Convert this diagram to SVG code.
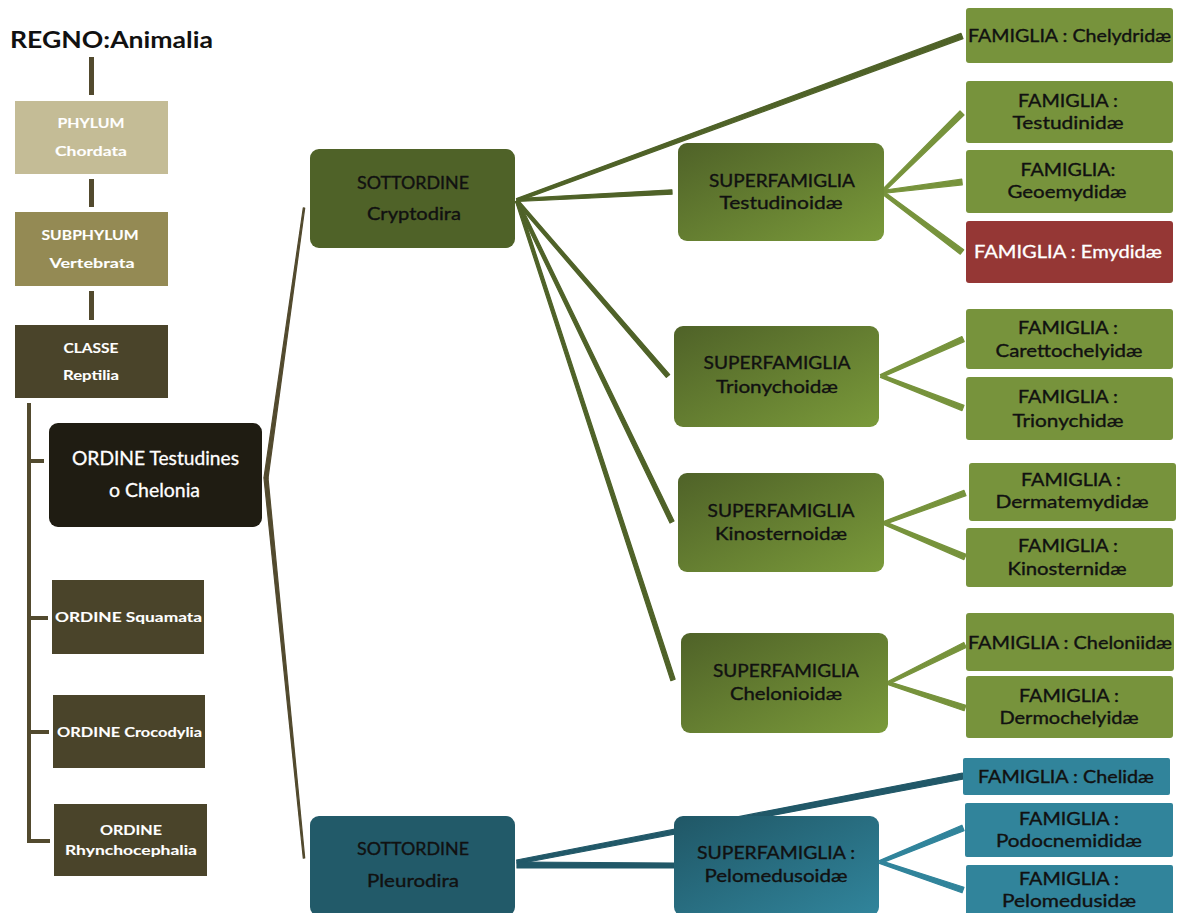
<svg xmlns="http://www.w3.org/2000/svg" width="1179" height="913" viewBox="0 0 1179 913">
<defs>
<linearGradient id="gGreen" x1="0" y1="0" x2="1" y2="1"><stop offset="0" stop-color="#4f6228"/><stop offset="1" stop-color="#7a9a3a"/></linearGradient>
<linearGradient id="gTeal" x1="0" y1="0" x2="1" y2="1"><stop offset="0" stop-color="#205766"/><stop offset="1" stop-color="#31859c"/></linearGradient>
<style>
text{font-family:Lato,"Liberation Sans",sans-serif;text-anchor:middle}
.w{fill:#ffffff;stroke:#ffffff;stroke-width:0.3}
.k{fill:#111111;stroke:#111111;stroke-width:0.35}
.lc{font-size:14px;font-weight:bold;stroke-width:0.1}
.fs{font-size:17px}
#connectors polygon{stroke-width:1.2;stroke-linejoin:round}
.brown{fill:#524a2e;stroke:#524a2e}
.cg{fill:#4f6228;stroke:#4f6228}
.cl{fill:#77933c;stroke:#77933c}
.ct{fill:#215868;stroke:#215868}
.cb{fill:#31849b;stroke:#31849b}
.bar{fill:#524a2e}
.fam{fill:#77933c}
.famt{fill:#31849b}
</style>
</defs>
<rect width="1179" height="913" fill="#ffffff"/>

<g id="connectors">
<rect class="bar" x="89" y="57" width="5" height="38"/>
<rect class="bar" x="89" y="179" width="5" height="28"/>
<rect class="bar" x="89" y="291" width="5" height="29"/>
<rect class="bar" x="27" y="403" width="4" height="440"/>
<rect class="bar" x="27" y="459" width="17" height="4"/>
<rect class="bar" x="27" y="616" width="21" height="4"/>
<rect class="bar" x="27" y="730" width="22" height="4"/>
<rect class="bar" x="27" y="839" width="23" height="4"/>
<polygon class="brown" points="268,478.3 304.7,208.1 303.3,207.9 264,477.7"/>
<polygon class="brown" points="264,478.2 303.3,858.1 304.7,857.9 268,477.8"/>
<polygon class="cg" points="517.5,201.4 963,38.6 961,33.4 516.5,198.6"/>
<polygon class="cg" points="517.1,201.5 672.1,194.2 671.9,189.8 516.9,198.5"/>
<polygon class="cg" points="515.9,202 666.3,377.4 669.7,374.6 518.1,200"/>
<polygon class="cg" points="515.6,201.7 670,523 674,521 518.4,200.3"/>
<polygon class="cg" points="515.6,201.5 670.9,680.7 675.1,679.3 518.4,200.5"/>
<polygon class="cl" points="883,193.1 964,115 960,111 881,190.9"/>
<polygon class="cl" points="882.2,193.5 962.3,184.8 961.7,179.2 881.8,190.5"/>
<polygon class="cl" points="881.1,193.2 960.3,254.2 963.7,249.8 882.9,190.8"/>
<polygon class="cl" points="881.6,377.4 964.2,341.6 961.9,336.5 880.4,374.6"/>
<polygon class="cl" points="880.5,377.4 962,410.6 964,405.4 881.6,374.6"/>
<polygon class="cl" points="884.5,524.4 966,495.6 964,490.4 883.5,521.6"/>
<polygon class="cl" points="883.4,524.4 963.9,559.6 966.1,554.4 884.6,521.6"/>
<polygon class="cl" points="888.7,684.3 966.2,647.5 963.8,642.5 887.3,681.7"/>
<polygon class="cl" points="887.5,684.4 964.1,710.7 965.9,705.3 888.5,681.6"/>
<polygon class="ct" points="517.4,864 963.6,779 962.4,773 516.6,860"/>
<polygon class="ct" points="517,862 674,863 674,868 517,868"/>
<polygon class="cb" points="880.6,863.4 964.1,830.8 961.9,825.2 879.4,860.6"/>
<polygon class="cb" points="879.5,863.4 962,892.8 964,887.2 880.5,860.6"/>
</g>

<g id="regno"><text x="10" y="48" style="text-anchor:start;font-size:22px;font-weight:bold;fill:#111" textLength="203" lengthAdjust="spacingAndGlyphs">REGNO:Animalia</text></g>

<g id="phylum"><rect x="15" y="101" width="153" height="73" fill="#c4bc96"/>
<text class="w lc" x="91" y="128" textLength="67" lengthAdjust="spacingAndGlyphs">PHYLUM</text>
<text class="w lc" x="91" y="156" textLength="72" lengthAdjust="spacingAndGlyphs">Chordata</text></g>

<g id="subphylum"><rect x="15" y="212" width="153" height="74" fill="#948a54"/>
<text class="w lc" x="90" y="240" textLength="97" lengthAdjust="spacingAndGlyphs">SUBPHYLUM</text>
<text class="w lc" x="92" y="268" textLength="85" lengthAdjust="spacingAndGlyphs">Vertebrata</text></g>

<g id="classe"><rect x="15" y="325" width="153" height="73" fill="#4a442a"/>
<text class="w lc" x="91" y="353" textLength="55" lengthAdjust="spacingAndGlyphs">CLASSE</text>
<text class="w lc" x="91" y="380" textLength="56" lengthAdjust="spacingAndGlyphs">Reptilia</text></g>

<g id="testudines"><rect x="49" y="423" width="213" height="104" rx="9" fill="#1f1c12"/>
<text class="w" style="font-size:19px" x="155.5" y="465" textLength="167" lengthAdjust="spacingAndGlyphs">ORDINE Testudines</text>
<text class="w" style="font-size:19px" x="154.5" y="497" textLength="91" lengthAdjust="spacingAndGlyphs">o Chelonia</text></g>

<g id="squamata"><rect x="52" y="580" width="152" height="74" fill="#4a442a"/>
<text class="w lc" x="128.5" y="622" textLength="147" lengthAdjust="spacingAndGlyphs">ORDINE  Squamata</text></g>

<g id="crocodylia"><rect x="53" y="695" width="152" height="73" fill="#4a442a"/>
<text class="w lc" x="129.5" y="737" textLength="145" lengthAdjust="spacingAndGlyphs">ORDINE Crocodylia</text></g>

<g id="rhyncho"><rect x="54" y="804" width="153" height="72" fill="#4a442a"/>
<text class="w lc" x="131" y="835" textLength="62" lengthAdjust="spacingAndGlyphs">ORDINE</text>
<text class="w lc" x="131" y="855" textLength="132" lengthAdjust="spacingAndGlyphs">Rhynchocephalia</text></g>

<g id="cryptodira"><rect x="310" y="149" width="205" height="99" rx="9" fill="#4f6228"/>
<text class="k fs" x="413" y="189" textLength="112" lengthAdjust="spacingAndGlyphs">SOTTORDINE</text>
<text class="k fs" x="414" y="220" textLength="94" lengthAdjust="spacingAndGlyphs">Cryptodira</text></g>

<g id="pleurodira"><rect x="310" y="816" width="205" height="100" rx="9" fill="#225a69"/>
<text class="k fs" x="413" y="855" textLength="112" lengthAdjust="spacingAndGlyphs">SOTTORDINE</text>
<text class="k fs" x="413" y="887" textLength="92" lengthAdjust="spacingAndGlyphs">Pleurodira</text></g>

<g id="testudinoidae"><rect x="678" y="143" width="206" height="98" rx="9" fill="url(#gGreen)"/>
<text class="k fs" x="782" y="187" textLength="146" lengthAdjust="spacingAndGlyphs">SUPERFAMIGLIA</text>
<text class="k fs" x="781" y="209" textLength="123" lengthAdjust="spacingAndGlyphs">Testudinoidæ</text></g>

<g id="trionychoidae"><rect x="674" y="326" width="205" height="101" rx="9" fill="url(#gGreen)"/>
<text class="k fs" x="777" y="369" textLength="147" lengthAdjust="spacingAndGlyphs">SUPERFAMIGLIA</text>
<text class="k fs" x="777" y="393" textLength="122" lengthAdjust="spacingAndGlyphs">Trionychoidæ</text></g>

<g id="kinosternoidae"><rect x="678" y="473" width="206" height="99" rx="9" fill="url(#gGreen)"/>
<text class="k fs" x="781" y="517" textLength="147" lengthAdjust="spacingAndGlyphs">SUPERFAMIGLIA</text>
<text class="k fs" x="781" y="540" textLength="132" lengthAdjust="spacingAndGlyphs">Kinosternoidæ</text></g>

<g id="chelonioidae"><rect x="681" y="633" width="207" height="100" rx="9" fill="url(#gGreen)"/>
<text class="k fs" x="786" y="677" textLength="146" lengthAdjust="spacingAndGlyphs">SUPERFAMIGLIA</text>
<text class="k fs" x="786" y="700" textLength="112" lengthAdjust="spacingAndGlyphs">Chelonioidæ</text></g>

<g id="pelomedusoidae"><rect x="674" y="816" width="205" height="100" rx="9" fill="url(#gTeal)"/>
<text class="k fs" x="776" y="859" textLength="158" lengthAdjust="spacingAndGlyphs">SUPERFAMIGLIA :</text>
<text class="k fs" x="776" y="882" textLength="143" lengthAdjust="spacingAndGlyphs">Pelomedusoidæ</text></g>

<g id="chelydridae"><rect class="fam" x="966" y="8" width="207" height="55" rx="3"/>
<text class="k fs" x="1069.5" y="42" textLength="203" lengthAdjust="spacingAndGlyphs">FAMIGLIA : Chelydridæ</text></g>

<g id="testudinidae"><rect class="fam" x="966" y="81" width="207" height="62" rx="3"/>
<text class="k fs" x="1068" y="107" textLength="100" lengthAdjust="spacingAndGlyphs">FAMIGLIA :</text>
<text class="k fs" x="1068" y="129" textLength="111" lengthAdjust="spacingAndGlyphs">Testudinidæ</text></g>

<g id="geoemydidae"><rect class="fam" x="966" y="150" width="207" height="63" rx="3"/>
<text class="k fs" x="1068" y="176" textLength="95" lengthAdjust="spacingAndGlyphs">FAMIGLIA:</text>
<text class="k fs" x="1067" y="198" textLength="119" lengthAdjust="spacingAndGlyphs">Geoemydidæ</text></g>

<g id="emydidae"><rect x="966" y="221" width="207" height="62" rx="3" fill="#953735"/>
<text class="w fs" x="1068" y="258" textLength="188" lengthAdjust="spacingAndGlyphs">FAMIGLIA : Emydidæ</text></g>

<g id="carettochelyidae"><rect class="fam" x="966" y="309" width="207" height="60" rx="3"/>
<text class="k fs" x="1068" y="334" textLength="100" lengthAdjust="spacingAndGlyphs">FAMIGLIA :</text>
<text class="k fs" x="1069" y="357" textLength="147" lengthAdjust="spacingAndGlyphs">Carettochelyidæ</text></g>

<g id="trionychidae"><rect class="fam" x="966" y="377" width="207" height="63" rx="3"/>
<text class="k fs" x="1068" y="403" textLength="100" lengthAdjust="spacingAndGlyphs">FAMIGLIA :</text>
<text class="k fs" x="1068" y="427" textLength="111" lengthAdjust="spacingAndGlyphs">Trionychidæ</text></g>

<g id="dermatemydidae"><rect class="fam" x="969" y="463" width="207" height="58" rx="3"/>
<text class="k fs" x="1071" y="486" textLength="100" lengthAdjust="spacingAndGlyphs">FAMIGLIA :</text>
<text class="k fs" x="1072" y="508" textLength="153" lengthAdjust="spacingAndGlyphs">Dermatemydidæ</text></g>

<g id="kinosternidae"><rect class="fam" x="966" y="528" width="207" height="59" rx="3"/>
<text class="k fs" x="1068" y="552" textLength="100" lengthAdjust="spacingAndGlyphs">FAMIGLIA :</text>
<text class="k fs" x="1067" y="575" textLength="119" lengthAdjust="spacingAndGlyphs">Kinosternidæ</text></g>

<g id="cheloniidae"><rect class="fam" x="966" y="613" width="208" height="58" rx="3"/>
<text class="k fs" x="1070" y="649" textLength="204" lengthAdjust="spacingAndGlyphs">FAMIGLIA : Cheloniidæ</text></g>

<g id="dermochelyidae"><rect class="fam" x="966" y="676" width="207" height="62" rx="3"/>
<text class="k fs" x="1069" y="702" textLength="100" lengthAdjust="spacingAndGlyphs">FAMIGLIA :</text>
<text class="k fs" x="1069" y="724" textLength="139" lengthAdjust="spacingAndGlyphs">Dermochelyidæ</text></g>

<g id="chelidae"><rect class="famt" x="963" y="758" width="207" height="37" rx="2"/>
<text class="k fs" x="1066" y="783" textLength="176" lengthAdjust="spacingAndGlyphs">FAMIGLIA : Chelidæ</text></g>

<g id="podocnemididae"><rect class="famt" x="965" y="803" width="208" height="54" rx="2"/>
<text class="k fs" x="1069" y="825" textLength="100" lengthAdjust="spacingAndGlyphs">FAMIGLIA :</text>
<text class="k fs" x="1069" y="847" textLength="146" lengthAdjust="spacingAndGlyphs">Podocnemididæ</text></g>

<g id="pelomedusidae"><rect class="famt" x="966" y="865" width="207" height="52" rx="2"/>
<text class="k fs" x="1069" y="885" textLength="100" lengthAdjust="spacingAndGlyphs">FAMIGLIA :</text>
<text class="k fs" x="1069" y="907" textLength="134" lengthAdjust="spacingAndGlyphs">Pelomedusidæ</text></g>
</svg>
